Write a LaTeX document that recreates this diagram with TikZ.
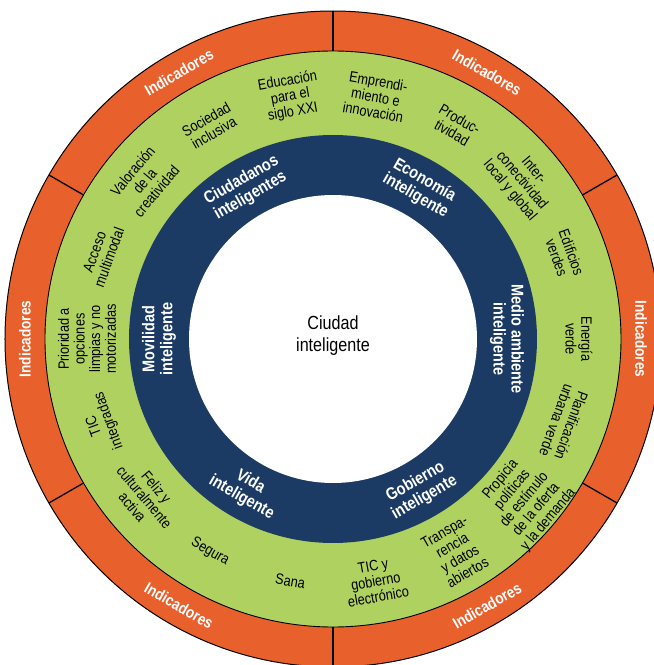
\documentclass[tikz,border=0pt]{standalone}
\usepackage{fontspec}
\setmainfont{Liberation Sans}[FakeStretch=0.85]
\usepackage{xcolor}
\usepackage{tikz}
\definecolor{indorange}{HTML}{E8602C}
\definecolor{itemgreen}{HTML}{AFD160}
\definecolor{areablue}{HTML}{1B3B64}

\begin{document}
\begin{tikzpicture}[
    x=1pt, y=1pt,
    every node/.style={align=center, inner sep=0pt},
    indlbl/.style={text=white, font=\fontsize{16}{18}\selectfont\bfseries},
    arealbl/.style={text=white, font=\fontsize{17}{18}\selectfont\bfseries},
    itemlbl/.style={text=black, font=\fontsize{15}{15.6}\selectfont},
    citylbl/.style={text=black, font=\fontsize{19}{22}\selectfont},
    sep/.style={draw=black, line width=1.3pt},
  ]
    \clip (-333,-326) rectangle (321,339);

    % --- rings ---
    \fill[indorange] (0,0) circle (328);
    \draw[line width=1pt] (0,0) circle (328);
    \fill[itemgreen] (0,0) circle (288);
    \draw[line width=0.9pt] (0,0) circle (288);
    \fill[areablue] (0,0) circle (204);
    \fill[white] (0,0) circle (144);

    % --- sector borders in the outer ring ---
    \draw[sep] (30:288) -- (30:328);
    \draw[sep] (90:288) -- (90:328);
    \draw[sep] (150:288) -- (150:328);
    \draw[sep] (210:288) -- (210:328);
    \draw[sep] (270:288) -- (270:328);
    \draw[sep] (330:288) -- (330:328);

    % --- centre ---
    \node[citylbl] (city) at (0,3) {Ciudad\\inteligente};

    % --- indicators ---
    \node[indlbl, rotate=-90] (ind0)   at (0:308)   {Indicadores};
    \node[indlbl, rotate=-30] (ind60)  at (60:308)  {Indicadores};
    \node[indlbl, rotate=30]  (ind120) at (120:308) {Indicadores};
    \node[indlbl, rotate=90]  (ind180) at (180:308) {Indicadores};
    \node[indlbl, rotate=-30] (ind240) at (240:308) {Indicadores};
    \node[indlbl, rotate=30]  (ind300) at (300:308) {Indicadores};

    % --- smart areas ---
    \node[arealbl, rotate=-90] (medio)     at (0:174)   {Medio ambiente\\inteligente};
    \node[arealbl, rotate=-30] (economia)  at (60:174)  {Econom\'ia\\inteligente};
    \node[arealbl, rotate=30]  (ciudadanos) at (120:174) {Ciudadanos\\inteligentes};
    \node[arealbl, rotate=90]  (movilidad) at (180:174) {Movilidad\\inteligente};
    \node[arealbl, rotate=-30] (vida)      at (240:174) {Vida\\inteligente};
    \node[arealbl, rotate=30]  (gobierno)  at (300:174) {Gobierno\\inteligente};

    % --- items, upper half ---
    \node[itemlbl, rotate=-90] (energia)    at (0:246)   {Energía\\verde};
    \node[itemlbl, rotate=-70] (edificios)  at (20:246)  {Edificios\\verdes};
    \node[itemlbl, rotate=-50] (intercon)   at (40:246)  {Inter-\\conectividad\\local y global};
    \node[itemlbl, rotate=-30] (productiv)  at (60:246)  {Produc-\\tividad};
    \node[itemlbl, rotate=-10] (emprend)    at (80:246)  {Emprendi-\\miento e\\innovación};
    \node[itemlbl, rotate=10]  (educacion)  at (100:246) {Educación\\para el\\siglo XXI};
    \node[itemlbl, rotate=30]  (sociedad)   at (120:246) {Sociedad\\inclusiva};
    \node[itemlbl, rotate=50]  (valoracion) at (140:246) {Valoración\\de la\\creatividad};
    \node[itemlbl, rotate=70]  (acceso)     at (160:246) {Acceso\\multimodal};
    \node[itemlbl, rotate=90]  (prioridad)  at (180:246) {Prioridad a\\opciones\\limpias y no\\motorizadas};
    \node[itemlbl, rotate=110] (ticint)     at (200:246) {TIC\\integradas};

    % --- items, lower half ---
    \node[itemlbl, rotate=-50] (feliz)      at (220:246) {Feliz y\\culturalmente\\activa};
    \node[itemlbl, rotate=-30] (segura)     at (240:246) {Segura};
    \node[itemlbl, rotate=-10] (sana)       at (260:246) {Sana};
    \node[itemlbl, rotate=10]  (ticgob)     at (280:246) {TIC y\\gobierno\\electrónico};
    \node[itemlbl, rotate=30]  (transp)     at (300:246) {Transpa-\\rencia\\y datos\\abiertos};
    \node[itemlbl, rotate=50]  (propicia)   at (320:250) {Propicia\\políticas\\de estímulo\\de la oferta\\y la demanda};
    \node[itemlbl, rotate=-110] (planif)    at (340:246) {Planificación\\urbana verde};
  \end{tikzpicture}
\end{document}
